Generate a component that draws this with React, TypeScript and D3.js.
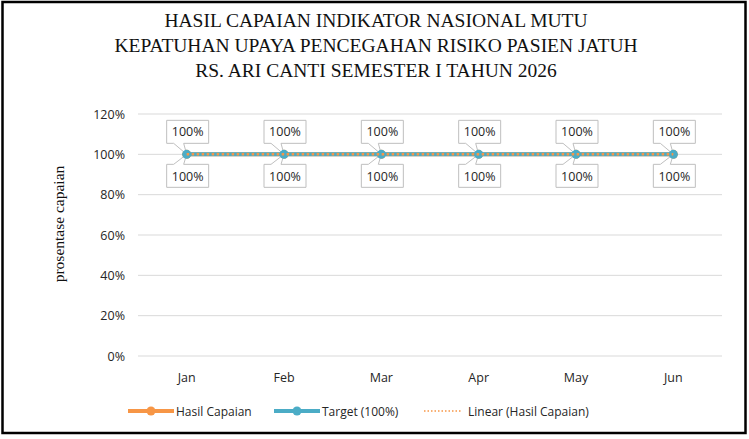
import React, { useRef, useEffect } from 'react';
import * as d3 from 'd3';

const months = ['Jan', 'Feb', 'Mar', 'Apr', 'May', 'Jun'];
const hasilCapaian = [1, 1, 1, 1, 1, 1];
const target = [1, 1, 1, 1, 1, 1];
const yTicks = [0, 0.2, 0.4, 0.6, 0.8, 1.0, 1.2];
const titleLines = [
    'HASIL CAPAIAN INDIKATOR NASIONAL MUTU',
    'KEPATUHAN UPAYA PENCEGAHAN RISIKO PASIEN JATUH',
    'RS. ARI CANTI SEMESTER I TAHUN 2026',
];

const ORANGE = '#f79646';
const TEAL = '#4bacc6';
const GRID = '#d9d9d9';
const TEXT = '#262626';
const SANS = "'Open Sans', 'Noto Sans', sans-serif";
const SERIF = "'Liberation Serif', 'Times New Roman', serif";

export default function App() {
    const svgRef = useRef<SVGSVGElement | null>(null);

    useEffect(() => {
        const width = 749;
        const height = 439;
        const margin = { top: 114, right: 27, bottom: 83, left: 138 };

        d3.select(svgRef.current).selectAll('*').remove();
        const svg = d3.select(svgRef.current).attr('width', width).attr('height', height);

        svg.append('rect')
            .attr('x', 2.5).attr('y', 2).attr('width', width - 6).attr('height', height - 8)
            .attr('fill', 'white').attr('stroke', 'black').attr('stroke-width', 2.5);

        const x = d3.scaleBand<string>()
            .domain(months)
            .range([margin.left, width - margin.right]);
        const y = d3.scaleLinear()
            .domain([0, 1.2])
            .range([height - margin.bottom, margin.top]);
        const cx = (m: string) => x(m)! + x.bandwidth() / 2;

        // title
        titleLines.forEach((t, i) => {
            svg.append('text')
                .attr('x', 376).attr('y', 27 + i * 25)
                .attr('text-anchor', 'middle')
                .attr('font-family', SERIF).attr('font-size', 19.5)
                .attr('fill', '#111')
                .text(t);
        });

        // grid + y ticks
        yTicks.forEach((v) => {
            svg.append('line')
                .attr('x1', margin.left).attr('x2', width - margin.right)
                .attr('y1', y(v)).attr('y2', y(v))
                .attr('stroke', GRID).attr('stroke-width', 1);
            svg.append('text')
                .attr('x', 125).attr('y', y(v) + 4.5)
                .attr('text-anchor', 'end')
                .attr('font-family', SANS).attr('font-size', 12.5)
                .attr('fill', TEXT)
                .text(d3.format('.0%')(v));
        });

        months.forEach((m) => {
            svg.append('text')
                .attr('x', cx(m)).attr('y', 382)
                .attr('text-anchor', 'middle')
                .attr('font-family', SANS).attr('font-size', 12.5)
                .attr('fill', TEXT)
                .text(m);
        });

        svg.append('text')
            .attr('transform', `translate(64,224) rotate(-90)`)
            .attr('text-anchor', 'middle')
            .attr('font-family', SERIF).attr('font-size', 15.5)
            .attr('fill', '#111')
            .text('prosentase capaian');

        // linear trend of hasil capaian
        const n = hasilCapaian.length;
        const xs = d3.range(n);
        const mx = d3.mean(xs)!;
        const my = d3.mean(hasilCapaian)!;
        const slope = d3.sum(xs, (i) => (i - mx) * (hasilCapaian[i] - my)) /
            d3.sum(xs, (i) => (i - mx) ** 2);
        const trend = xs.map((i) => my + slope * (i - mx));

        const line = d3.line<number>()
            .x((_, i) => cx(months[i]))
            .y((d) => y(d));

        svg.append('path').datum(hasilCapaian).attr('d', line)
            .attr('fill', 'none').attr('stroke', ORANGE).attr('stroke-width', 4);
        hasilCapaian.forEach((v, i) => {
            svg.append('circle').attr('cx', cx(months[i])).attr('cy', y(v)).attr('r', 4.5).attr('fill', ORANGE);
        });
        svg.append('path').datum(target).attr('d', line)
            .attr('fill', 'none').attr('stroke', TEAL).attr('stroke-width', 4);

        // data label callouts
        const bw = 42;
        const bh = 23;
        const callout = (px: number, py: number, above: boolean) => {
            const l = px - 20;
            const r = l + bw;
            if (above) {
                const t = py - 34;
                const b = t + bh;
                return `M${l},${t}H${r}V${b}H${px - 3}L${px},${py}L${px - 13},${b}H${l}Z`;
            }
            const t = py + 10;
            const b = t + bh;
            return `M${l},${b}H${r}V${t}H${px - 3}L${px},${py}L${px - 13},${t}H${l}Z`;
        };

        const labels = [
            { data: hasilCapaian, above: true },
            { data: target, above: false },
        ];
        labels.forEach(({ data, above }) => {
            data.forEach((v, i) => {
                const px = cx(months[i]);
                const py = y(v);
                svg.append('path')
                    .attr('d', callout(px, py, above))
                    .attr('fill', 'white').attr('stroke', '#bfbfbf').attr('stroke-width', 1);
                svg.append('text')
                    .attr('x', px + 1).attr('y', above ? py - 18 : py + 26.5)
                    .attr('text-anchor', 'middle')
                    .attr('font-family', SANS).attr('font-size', 12.5)
                    .attr('fill', TEXT)
                    .text(d3.format('.0%')(v));
            });
        });

        target.forEach((v, i) => {
            svg.append('circle').attr('cx', cx(months[i])).attr('cy', y(v)).attr('r', 4.5).attr('fill', TEAL);
        });
        svg.append('path').datum(trend).attr('d', line)
            .attr('fill', 'none').attr('stroke', ORANGE).attr('stroke-width', 2.5)
            .attr('stroke-dasharray', '2.5,2.5')
            .attr('stroke-dashoffset', -5);

        // legend
        const ly = 411;
        const legend = [
            { x: 128, label: 'Hasil Capaian', color: ORANGE, kind: 'marker' },
            { x: 274, label: 'Target (100%)', color: TEAL, kind: 'marker' },
            { x: 424, label: 'Linear (Hasil Capaian)', color: ORANGE, kind: 'dotted' },
        ];
        legend.forEach((d) => {
            const len = d.kind === 'marker' ? 46 : 38;
            svg.append('line')
                .attr('x1', d.x).attr('x2', d.x + len)
                .attr('y1', ly).attr('y2', ly)
                .attr('stroke', d.color)
                .attr('stroke-width', d.kind === 'marker' ? 4 : 1.5)
                .attr('stroke-dasharray', d.kind === 'marker' ? null : '1.5,2');
            if (d.kind === 'marker') {
                svg.append('circle').attr('cx', d.x + len / 2).attr('cy', ly).attr('r', 4.5).attr('fill', d.color);
            }
            svg.append('text')
                .attr('x', d.x + len + (d.kind === 'marker' ? 2 : 6)).attr('y', ly + 4.5)
                .attr('font-family', SANS).attr('font-size', 12)
                .attr('fill', TEXT)
                .text(d.label);
        });
    }, []);

    return <svg ref={svgRef} style={{ position: 'absolute', left: 0, top: 0 }}></svg>;
}
